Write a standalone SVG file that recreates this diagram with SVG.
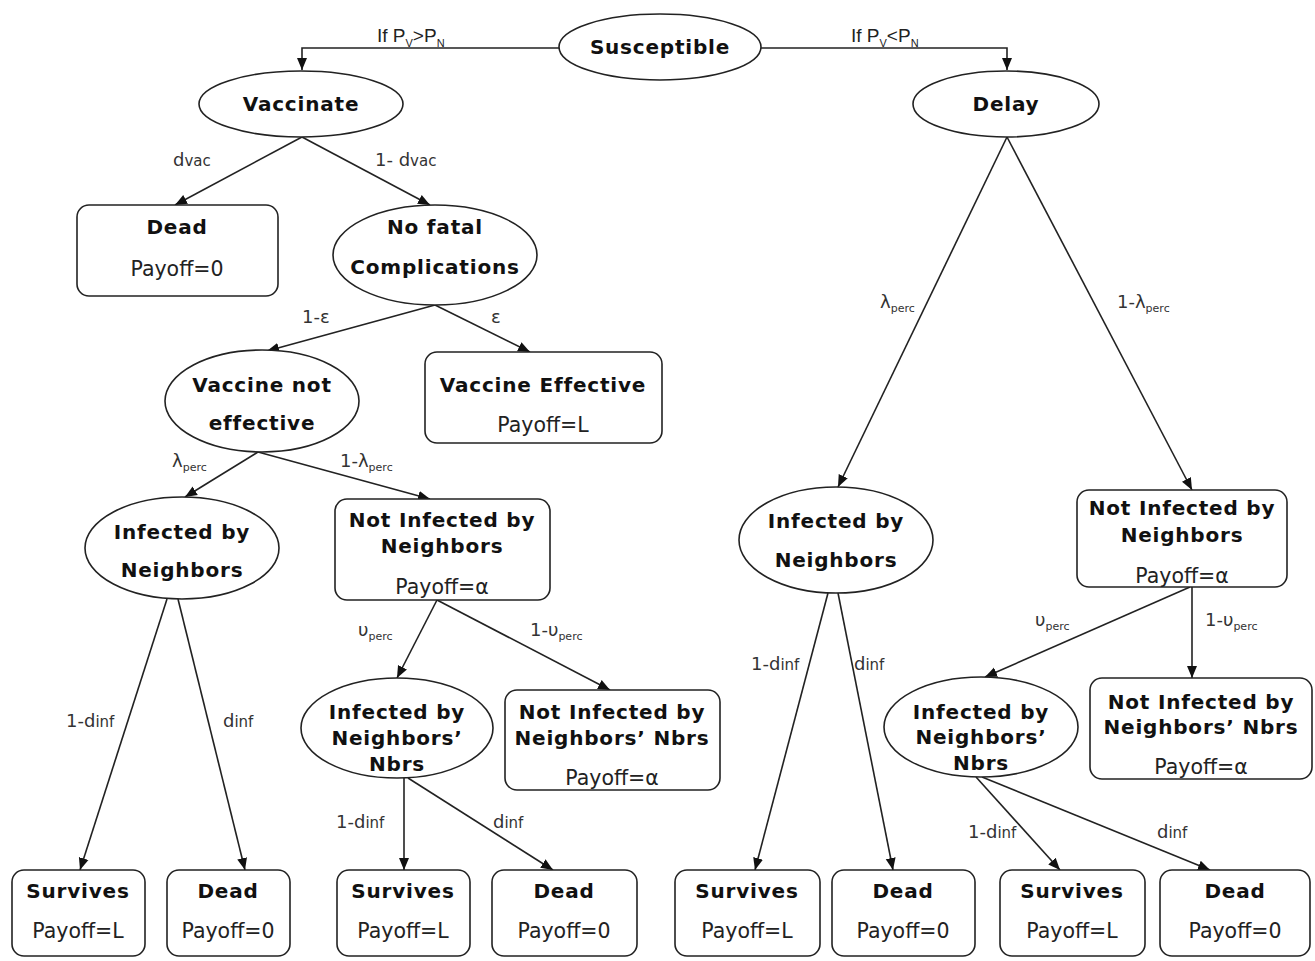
<svg xmlns="http://www.w3.org/2000/svg" width="1315" height="961" viewBox="0 0 1315 961">
<style>
.n{fill:#fff;stroke:#222;stroke-width:1.6}
.t{font-family:"DejaVu Sans",Verdana,sans-serif;font-weight:bold;font-size:20px;letter-spacing:0.8px;fill:#111;text-anchor:middle}
.p{font-family:"DejaVu Sans",Verdana,sans-serif;font-size:20.5px;fill:#222;text-anchor:middle}
.e{fill:none;stroke:#222;stroke-width:1.6;marker-end:url(#ah)}
.l{font-family:"DejaVu Sans",Verdana,sans-serif;font-size:18px;fill:#333}
.s{font-size:11px}
.i{font-size:15px}
.g{font-family:"Liberation Sans",Arial,sans-serif;font-size:19px;fill:#222}
</style>
<defs>
<marker id="ah" markerUnits="userSpaceOnUse" markerWidth="12" markerHeight="12" viewBox="0 0 12 12" refX="12" refY="6" orient="auto">
<path d="M0,1 L12,6 L0,11 z" fill="#111"/>
</marker>
</defs>
<rect width="1315" height="961" fill="#fff"/>
<g id="connectors">
<path class="e" d="M560,48 H302 V70"/>
<path class="e" d="M760,48 H1007 V70"/>
<path class="e" d="M302,137 L175,205"/>
<path class="e" d="M302,137 L430,205"/>
<path class="e" d="M435,305 L267,351"/>
<path class="e" d="M435,305 L530,352"/>
<path class="e" d="M258,452 L185,497"/>
<path class="e" d="M258,452 L430,499"/>
<path class="e" d="M167,599 L80,870"/>
<path class="e" d="M178,599 L245,870"/>
<path class="e" d="M437,600 L397,678"/>
<path class="e" d="M437,600 L610,690"/>
<path class="e" d="M404,778 V870"/>
<path class="e" d="M408,778 L553,870"/>
<path class="e" d="M1007,137 L838,487"/>
<path class="e" d="M1007,137 L1192,490"/>
<path class="e" d="M828,593 L755,870"/>
<path class="e" d="M838,593 L893,870"/>
<path class="e" d="M1190,587 L985,677"/>
<path class="e" d="M1192,587 V678"/>
<path class="e" d="M976,777 L1060,870"/>
<path class="e" d="M982,777 L1210,870"/>
<text class="g" x="377" y="42">If P<tspan class="s" dy="5">V</tspan><tspan dy="-5">&gt;P</tspan><tspan class="s" dy="5">N</tspan></text>
<text class="g" x="851" y="42">If P<tspan class="s" dy="5">V</tspan><tspan dy="-5">&lt;P</tspan><tspan class="s" dy="5">N</tspan></text>
<text class="l" x="173" y="166">d<tspan class="i">vac</tspan></text>
<text class="l" x="375" y="166">1- d<tspan class="i">vac</tspan></text>
<text class="l" x="302" y="323">1-ε</text>
<text class="l" x="491" y="323">ε</text>
<text class="l" x="172" y="467">λ<tspan class="s" dy="4">perc</tspan></text>
<text class="l" x="340" y="467">1-λ<tspan class="s" dy="4">perc</tspan></text>
<text class="l" x="880" y="308">λ<tspan class="s" dy="4">perc</tspan></text>
<text class="l" x="1117" y="308">1-λ<tspan class="s" dy="4">perc</tspan></text>
<text class="l" x="358" y="636">υ<tspan class="s" dy="4">perc</tspan></text>
<text class="l" x="530" y="636">1-υ<tspan class="s" dy="4">perc</tspan></text>
<text class="l" x="1035" y="626">υ<tspan class="s" dy="4">perc</tspan></text>
<text class="l" x="1205" y="626">1-υ<tspan class="s" dy="4">perc</tspan></text>
<text class="l" x="66" y="727">1-d<tspan class="i">inf</tspan></text>
<text class="l" x="223" y="727">d<tspan class="i">inf</tspan></text>
<text class="l" x="336" y="828">1-d<tspan class="i">inf</tspan></text>
<text class="l" x="493" y="828">d<tspan class="i">inf</tspan></text>
<text class="l" x="751" y="670">1-d<tspan class="i">inf</tspan></text>
<text class="l" x="854" y="670">d<tspan class="i">inf</tspan></text>
<text class="l" x="968" y="838">1-d<tspan class="i">inf</tspan></text>
<text class="l" x="1157" y="838">d<tspan class="i">inf</tspan></text>
</g>
<g id="susceptible"><ellipse class="n" cx="660" cy="47" rx="101" ry="33"/><text class="t" x="660" y="54">Susceptible</text></g>
<g id="vaccinate"><ellipse class="n" cx="301" cy="104" rx="102" ry="33"/><text class="t" x="301" y="111">Vaccinate</text></g>
<g id="delay"><ellipse class="n" cx="1006" cy="104" rx="93" ry="33"/><text class="t" x="1006" y="111">Delay</text></g>
<g id="dead-vac"><rect class="n" x="77" y="205" width="201" height="91" rx="12"/><text class="t" x="177" y="234">Dead</text><text class="p" x="177" y="276">Payoff=0</text></g>
<g id="no-fatal"><ellipse class="n" cx="435" cy="255" rx="102" ry="50"/><text class="t" x="435" y="234">No fatal</text><text class="t" x="435" y="274">Complications</text></g>
<g id="vac-not-eff"><ellipse class="n" cx="262" cy="401" rx="97" ry="51"/><text class="t" x="262" y="392">Vaccine not</text><text class="t" x="262" y="430">effective</text></g>
<g id="vac-eff"><rect class="n" x="425" y="352" width="237" height="91" rx="12"/><text class="t" x="543" y="392">Vaccine Effective</text><text class="p" x="543" y="432">Payoff=L</text></g>
<g id="inf-l"><ellipse class="n" cx="182" cy="548" rx="97" ry="51"/><text class="t" x="182" y="539">Infected by</text><text class="t" x="182" y="577">Neighbors</text></g>
<g id="notinf-l"><rect class="n" x="335" y="499" width="215" height="101" rx="12"/><text class="t" x="442" y="527">Not Infected by</text><text class="t" x="442" y="553">Neighbors</text><text class="p" x="442" y="594">Payoff=α</text></g>
<g id="infnn-l"><ellipse class="n" cx="397" cy="728" rx="96" ry="50"/><text class="t" x="397" y="719">Infected by</text><text class="t" x="397" y="745">Neighbors’</text><text class="t" x="397" y="771">Nbrs</text></g>
<g id="notinfnn-l"><rect class="n" x="505" y="690" width="215" height="100" rx="12"/><text class="t" x="612" y="719">Not Infected by</text><text class="t" x="612" y="745">Neighbors’ Nbrs</text><text class="p" x="612" y="785">Payoff=α</text></g>
<g id="inf-r"><ellipse class="n" cx="836" cy="540" rx="97" ry="53"/><text class="t" x="836" y="528">Infected by</text><text class="t" x="836" y="567">Neighbors</text></g>
<g id="notinf-r"><rect class="n" x="1077" y="490" width="210" height="97" rx="12"/><text class="t" x="1182" y="515">Not Infected by</text><text class="t" x="1182" y="542">Neighbors</text><text class="p" x="1182" y="583">Payoff=α</text></g>
<g id="infnn-r"><ellipse class="n" cx="981" cy="727" rx="97" ry="50"/><text class="t" x="981" y="719">Infected by</text><text class="t" x="981" y="744">Neighbors’</text><text class="t" x="981" y="770">Nbrs</text></g>
<g id="notinfnn-r"><rect class="n" x="1090" y="678" width="222" height="101" rx="12"/><text class="t" x="1201" y="709">Not Infected by</text><text class="t" x="1201" y="734">Neighbors’ Nbrs</text><text class="p" x="1201" y="774">Payoff=α</text></g>
<g id="surv-1"><rect class="n" x="12" y="870" width="133" height="86" rx="12"/><text class="t" x="78" y="898">Survives</text><text class="p" x="78" y="938">Payoff=L</text></g>
<g id="dead-1"><rect class="n" x="167" y="870" width="123" height="86" rx="12"/><text class="t" x="228" y="898">Dead</text><text class="p" x="228" y="938">Payoff=0</text></g>
<g id="surv-2"><rect class="n" x="337" y="870" width="133" height="86" rx="12"/><text class="t" x="403" y="898">Survives</text><text class="p" x="403" y="938">Payoff=L</text></g>
<g id="dead-2"><rect class="n" x="492" y="870" width="145" height="86" rx="12"/><text class="t" x="564" y="898">Dead</text><text class="p" x="564" y="938">Payoff=0</text></g>
<g id="surv-3"><rect class="n" x="675" y="870" width="145" height="86" rx="12"/><text class="t" x="747" y="898">Survives</text><text class="p" x="747" y="938">Payoff=L</text></g>
<g id="dead-3"><rect class="n" x="832" y="870" width="143" height="86" rx="12"/><text class="t" x="903" y="898">Dead</text><text class="p" x="903" y="938">Payoff=0</text></g>
<g id="surv-4"><rect class="n" x="1000" y="870" width="145" height="86" rx="12"/><text class="t" x="1072" y="898">Survives</text><text class="p" x="1072" y="938">Payoff=L</text></g>
<g id="dead-4"><rect class="n" x="1160" y="870" width="150" height="86" rx="12"/><text class="t" x="1235" y="898">Dead</text><text class="p" x="1235" y="938">Payoff=0</text></g>
</svg>
